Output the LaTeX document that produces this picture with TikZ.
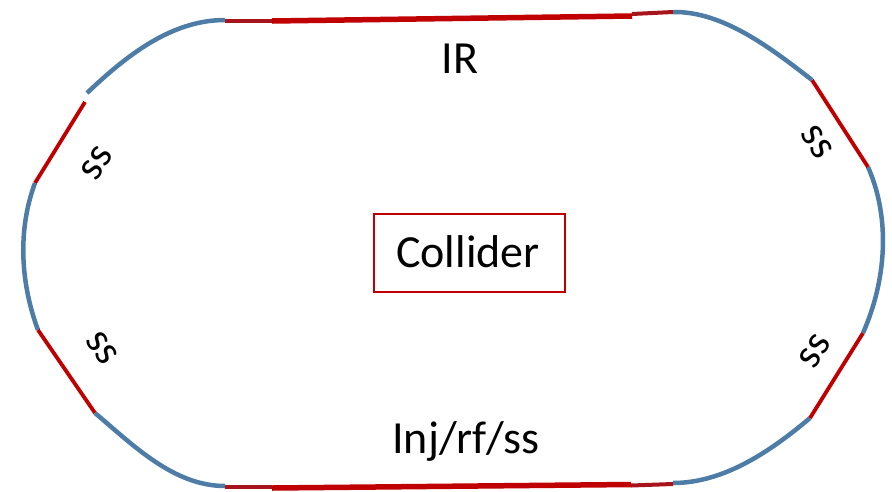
\documentclass[tikz,border=0pt]{standalone}
\usepackage{fontspec}
\setmainfont{Carlito}
\definecolor{trackblue}{HTML}{4D7CA6}
\definecolor{trackred}{HTML}{C00000}
\definecolor{endred}{HTML}{A8141C}
\begin{document}
\begin{tikzpicture}[x=1pt,y=-1pt,
  arcseg/.style={draw=trackblue,line width=4.5pt},
  chordseg/.style={draw=trackred,line width=3.8pt},
  mainseg/.style={draw=trackred,line width=5.5pt},
  endseg/.style={draw=endred,line width=4pt},
  biglabel/.style={font=\fontsize{46}{55}\selectfont,anchor=base,inner sep=0pt},
  sslabel/.style={font=\fontsize{42}{50}\selectfont,inner sep=0pt}]
\useasboundingbox (0,0) rectangle (892,491);
% top straight
\draw[endseg] (225,21) -- (272,21);
\draw[mainseg] (272,21) -- (632,16);
\draw[endseg] (632,14) -- (673,12);
% bottom straight
\draw[endseg] (225,487) -- (272,487);
\draw[mainseg] (272,488) -- (631,484.5);
\draw[endseg] (631,485.5) -- (673,484);
% left end
\draw[arcseg] (225,20) .. controls (171,20) and (126,56) .. (87,93);
\draw[chordseg] (85,102) -- (35,183);
\draw[arcseg] (35,183) .. controls (17.5,230) and (20.5,283) .. (38,330);
\draw[chordseg] (38,330) -- (95,413);
\draw[arcseg] (95,413) .. controls (134,446) and (174,486) .. (225,486);
% right end
\draw[arcseg] (673,483) .. controls (724,483) and (771,451) .. (810,418);
\draw[chordseg] (810,418) -- (863,333);
\draw[arcseg] (863,333) .. controls (886,281) and (891,219) .. (868,167);
\draw[chordseg] (868,167) -- (812,80);
\draw[arcseg] (812,80) .. controls (772,49) and (723,11) .. (673,12);
% labels
\node[biglabel] (ir) at (460,73) {IR};
\node[biglabel] (inj) at (466,453) {Inj/rf/ss};
\node[draw=trackred,line width=1.2pt,minimum width=191pt,minimum height=78pt,inner sep=0pt] (box) at (469.5,253) {};
\node[biglabel] (coll) at (468,267) {Collider};
\node[sslabel,rotate=58] (ss1) at (97,163) {ss};
\node[sslabel,rotate=-55] (ss2) at (102,348) {ss};
\node[sslabel,rotate=-57] (ss3) at (817,142) {ss};
\node[sslabel,rotate=58] (ss4) at (815,351) {ss};
\end{tikzpicture}
\end{document}
